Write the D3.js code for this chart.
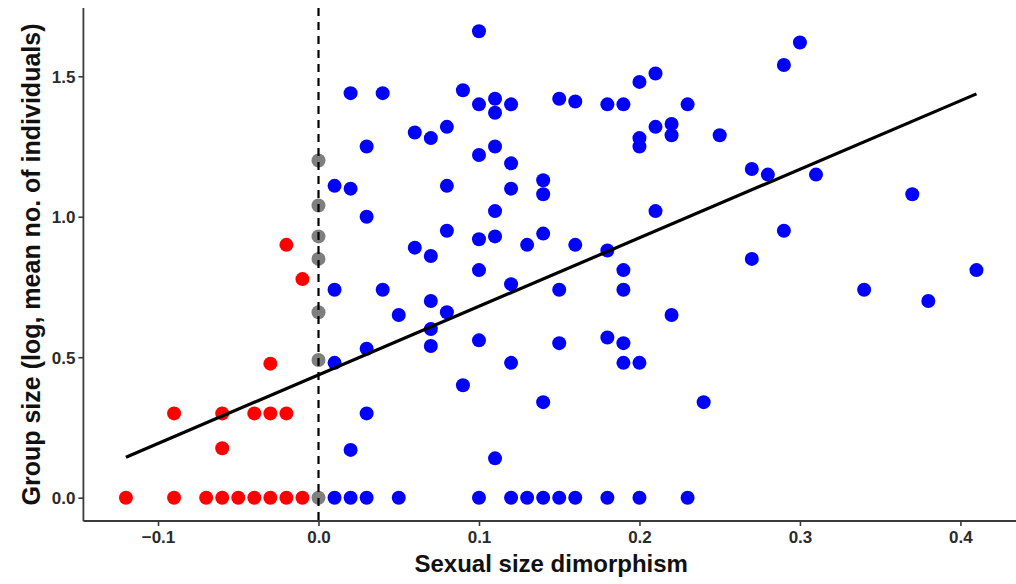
<!DOCTYPE html>
<html>
<head>
<meta charset="utf-8">
<script src="https://cdn.jsdelivr.net/npm/d3@7/dist/d3.min.js"></script>
<style>
  html, body { margin: 0; padding: 0; background: #fff; }
  svg { display: block; }
  text { font-family: "Liberation Sans", Arial, Helvetica, sans-serif; font-weight: bold; }
</style>
</head>
<body>
<svg id="chart" width="1016" height="584"></svg>
<script>
// Species with female-biased size dimorphism (negative values)
const femaleX = [-0.12, -0.09, -0.09, -0.07, -0.06, -0.06, -0.06, -0.05, -0.04, -0.04,
                 -0.03, -0.03, -0.03, -0.02, -0.02, -0.02, -0.01, -0.01];
const femaleY = [0, 0, 0.30, 0, 0, 0.30, 0.176, 0, 0, 0.30,
                 0, 0.30, 0.477, 0, 0.30, 0.90, 0, 0.778];

// Monomorphic species
const monoX = [0, 0, 0, 0, 0, 0, 0];
const monoY = [0, 0.49, 0.66, 0.85, 0.93, 1.04, 1.20];

// Species with male-biased size dimorphism
const maleX = [
  0.01, 0.02, 0.03, 0.05, 0.10, 0.12, 0.13, 0.14, 0.15, 0.16, 0.18, 0.20, 0.23,
  0.01, 0.01, 0.01,
  0.02, 0.02, 0.02,
  0.03, 0.03, 0.03, 0.03,
  0.04, 0.04,
  0.05,
  0.06, 0.06,
  0.07, 0.07, 0.07, 0.07, 0.07,
  0.08, 0.08, 0.08, 0.08,
  0.09, 0.09,
  0.10, 0.10, 0.10, 0.10, 0.10, 0.10,
  0.11, 0.11, 0.11, 0.11, 0.11, 0.11,
  0.12, 0.12, 0.12, 0.12, 0.12,
  0.13,
  0.14, 0.14, 0.14, 0.14,
  0.15, 0.15, 0.15,
  0.16, 0.16,
  0.18, 0.18, 0.18,
  0.19, 0.19, 0.19, 0.19, 0.19,
  0.20, 0.20, 0.20, 0.20,
  0.21, 0.21, 0.21,
  0.22, 0.22, 0.22,
  0.23, 0.24, 0.25,
  0.27, 0.27, 0.28,
  0.29, 0.29, 0.30, 0.31,
  0.34, 0.37, 0.38, 0.41
];
const maleY = [
  0, 0, 0, 0, 0, 0, 0, 0, 0, 0, 0, 0, 0,
  1.11, 0.74, 0.48,
  1.44, 1.10, 0.17,
  1.25, 1.00, 0.53, 0.30,
  1.44, 0.74,
  0.65,
  1.30, 0.89,
  1.28, 0.86, 0.70, 0.60, 0.54,
  1.32, 1.11, 0.95, 0.66,
  1.45, 0.40,
  1.66, 1.40, 1.22, 0.92, 0.81, 0.56,
  1.42, 1.37, 1.25, 1.02, 0.93, 0.14,
  1.40, 1.19, 1.10, 0.76, 0.48,
  0.90,
  1.13, 1.08, 0.94, 0.34,
  1.42, 0.74, 0.55,
  1.41, 0.90,
  1.40, 0.88, 0.57,
  1.40, 0.81, 0.74, 0.55, 0.48,
  1.48, 1.28, 1.25, 0.48,
  1.51, 1.32, 1.02,
  1.33, 1.29, 0.65,
  1.40, 0.34, 1.29,
  1.17, 0.85, 1.15,
  1.54, 0.95, 1.62, 1.15,
  0.74, 1.08, 0.70, 0.81
];

// Linear fit: intercept and slope, drawn over the observed x range
const fitCoef = [0.437, 2.44];
const fitRange = [-0.12, 0.41];

const xTicks = [-0.1, 0.0, 0.1, 0.2, 0.3, 0.4];
const yTicks = [0.0, 0.5, 1.0, 1.5];
const xTitle = "Sexual size dimorphism";
const yTitle = "Group size (log, mean no. of individuals)";

const svg = d3.select("#chart");
const panel = { left: 83.4, right: 1019, top: 8, bottom: 521 };

const x = d3.scaleLinear().domain([-0.1465, 0.4365]).range([panel.left, panel.right]);
const y = d3.scaleLinear().domain([-0.083, 1.743]).range([panel.bottom, panel.top]);

const groups = [
  { xs: femaleX, ys: femaleY, color: "#ff0000" },
  { xs: monoX, ys: monoY, color: "#7f7f7f" },
  { xs: maleX, ys: maleY, color: "#0000ff" }
];

// points
groups.forEach(g => {
  svg.append("g").selectAll("circle")
    .data(g.xs.map((v, i) => [v, g.ys[i]]))
    .join("circle")
    .attr("cx", d => x(d[0]))
    .attr("cy", d => y(d[1]))
    .attr("r", 7)
    .attr("fill", g.color);
});

// reference line at zero dimorphism
svg.append("line")
  .attr("x1", x(0)).attr("x2", x(0))
  .attr("y1", panel.top).attr("y2", panel.bottom)
  .attr("stroke", "#000")
  .attr("stroke-width", 2.2)
  .attr("stroke-dasharray", "8,6");

// regression line
const fitLine = d3.line().x(d => x(d)).y(d => y(fitCoef[0] + fitCoef[1] * d));
svg.append("path")
  .datum(fitRange)
  .attr("d", fitLine)
  .attr("fill", "none")
  .attr("stroke", "#000")
  .attr("stroke-width", 3.2)
  .attr("stroke-linecap", "butt");

// axes
const xAxis = d3.axisBottom(x).tickValues(xTicks).tickFormat(d3.format(".1f")).tickSize(5).tickSizeOuter(0);
const yAxis = d3.axisLeft(y).tickValues(yTicks).tickFormat(d3.format(".1f")).tickSize(5).tickSizeOuter(0);

const gx = svg.append("g").attr("transform", `translate(0,${panel.bottom})`).call(xAxis);
const gy = svg.append("g").attr("transform", `translate(${panel.left},0)`).call(yAxis);

[gx, gy].forEach(g => {
  g.select(".domain").attr("stroke", "#3a3a3a").attr("stroke-width", 1.8);
  g.selectAll(".tick line").attr("stroke", "#3a3a3a").attr("stroke-width", 1.6);
  g.selectAll(".tick text")
    .attr("fill", "#2b2b2b")
    .style("font-size", "17px")
    .style("font-weight", "bold");
});
gx.select(".domain").attr("d", `M${panel.left},0H${panel.right}`);
gy.select(".domain").attr("d", `M0,${panel.top}V${panel.bottom}`);
gx.selectAll(".tick text").attr("y", 9).attr("dy", "0.75em");
gy.selectAll(".tick text").attr("x", -8).attr("dy", "0.36em");

// axis titles
svg.append("text")
  .attr("x", (panel.left + panel.right) / 2)
  .attr("y", 572)
  .attr("text-anchor", "middle")
  .attr("fill", "#111")
  .style("font-size", "24px")
  .text(xTitle);

svg.append("text")
  .attr("transform", `translate(40,${(panel.top + panel.bottom) / 2}) rotate(-90)`)
  .attr("text-anchor", "middle")
  .attr("fill", "#111")
  .style("font-size", "25px")
  .text(yTitle);
</script>
</body>
</html>
